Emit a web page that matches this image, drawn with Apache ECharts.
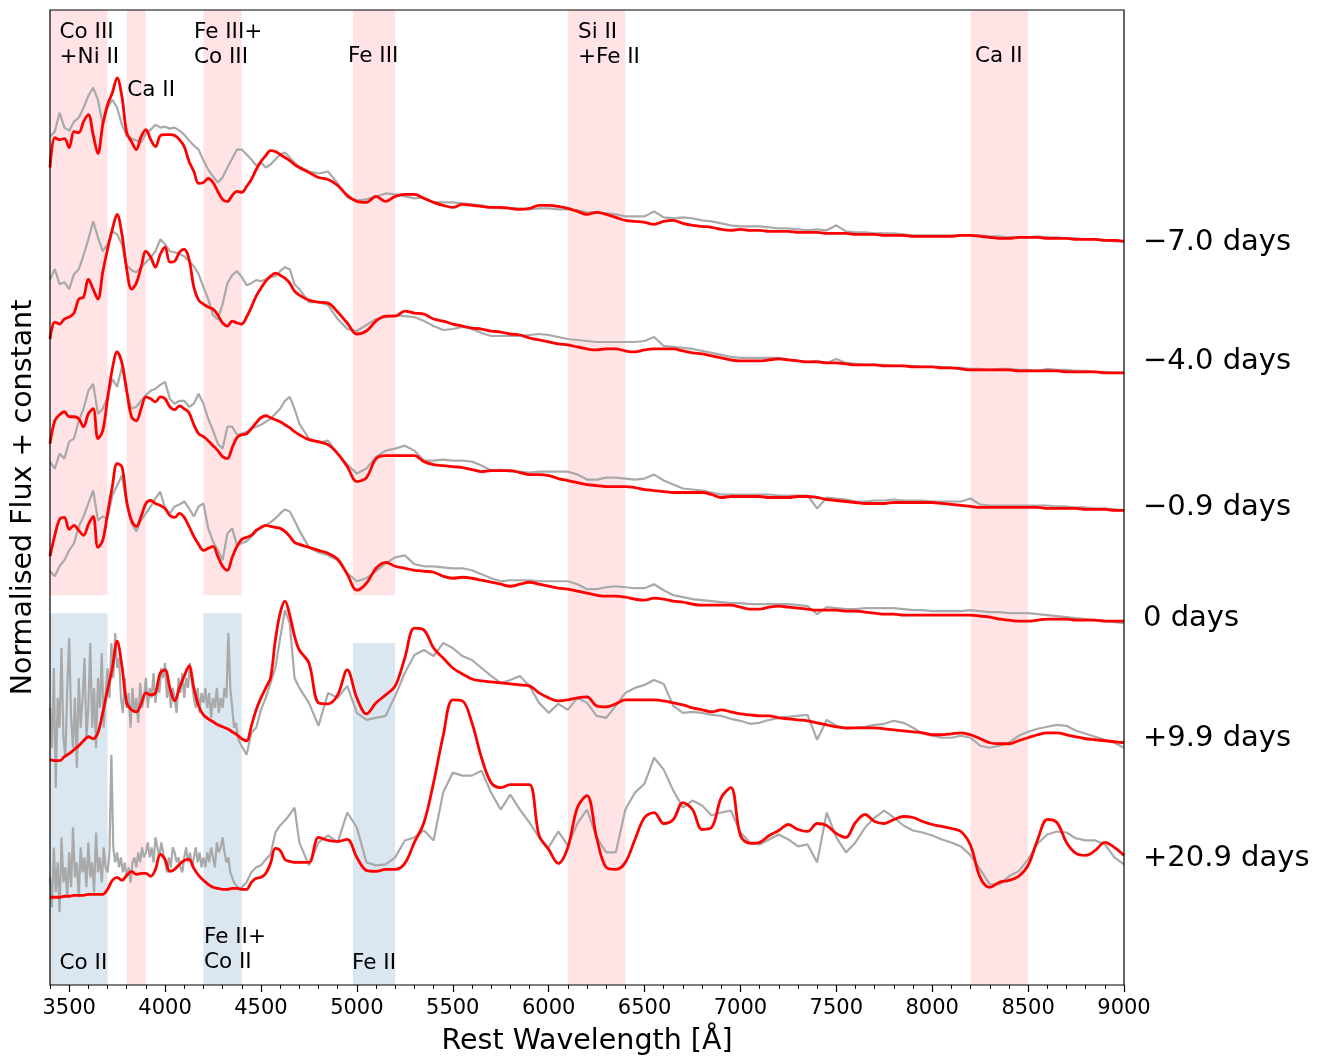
<!DOCTYPE html>
<html>
<head>
<meta charset="utf-8">
<script src="https://cdn.jsdelivr.net/npm/echarts@6/dist/echarts.min.js"></script>
<style>
  html, body { margin: 0; padding: 0; background: #fff; }
  #chart { width: 1324px; height: 1061px; }
</style>
</head>
<body>
<div id="chart"></div>
<script>
// wavelength grid (Angstrom), shared by every spectrum
var wave = [
  3400, 3425, 3450, 3475, 3500, 3525, 3550, 3575, 3600, 3625, 3650, 3675, 3700,
  3725, 3750, 3775, 3800, 3825, 3850, 3875, 3900, 3925, 3950, 3975, 4000,
  4025, 4050, 4075, 4100, 4125, 4150, 4175, 4200, 4225, 4250, 4275, 4300,
  4325, 4350, 4375, 4400, 4425, 4450, 4475, 4500, 4525, 4550, 4575, 4600, 4625, 4650, 4675, 4700,
  4750, 4800, 4850, 4900, 4950, 5000, 5050, 5100, 5150, 5200, 5250, 5300, 5350, 5400, 5450, 5500, 5550, 5600,
  5650, 5700, 5750, 5800, 5850, 5900, 5950, 6000, 6050, 6100, 6150, 6200, 6250, 6300, 6350, 6400, 6450, 6500,
  6550, 6600, 6650, 6700, 6750, 6800, 6850, 6900, 6950, 7000, 7050, 7100, 7150, 7200, 7250, 7300, 7350, 7400,
  7450, 7500, 7550, 7600, 7650, 7700, 7750, 7800, 7850, 7900, 7950, 8000, 8050, 8100, 8150, 8200,
  8250, 8300, 8350, 8400, 8450, 8500, 8550, 8600, 8650, 8700, 8750, 8800, 8850, 8900, 8950, 9000
];

// finer grid for the noisy blue end of the two late spectra
var waveFine = [
  3400, 3410, 3420, 3430, 3440, 3450, 3460, 3470, 3480, 3490,
  3500, 3510, 3520, 3530, 3540, 3550, 3560, 3570, 3580, 3590,
  3600, 3610, 3620, 3630, 3640, 3650, 3660, 3670, 3680, 3690,
  3700, 3710, 3720, 3730, 3740, 3750, 3760, 3770, 3780, 3790,
  3800, 3810, 3820, 3830, 3840, 3850, 3860, 3870, 3880, 3890,
  3900, 3910, 3920, 3930, 3940, 3950, 3960, 3970, 3980, 3990,
  4000, 4010, 4020, 4030, 4040, 4050, 4060, 4070, 4080, 4090,
  4100, 4110, 4120, 4130, 4140, 4150, 4160, 4170, 4180, 4190,
  4200, 4210, 4220, 4230, 4240, 4250, 4260, 4270, 4280, 4290,
  4300, 4310, 4320, 4330, 4340, 4350, 4360, 4370, 4380, 4390
];

// normalised flux + constant (x100), observed spectra (grey)
var obsM70 = [
  863, 868, 887, 872, 869, 878, 882, 892, 904, 912, 900, 875, 892,
  900, 892, 875, 864, 861, 859, 857, 866, 870, 875, 872, 873,
  871, 872, 869, 865, 859, 854, 850, 839, 830, 823, 817, 822,
  832, 841, 850, 850, 845, 840, 834, 837, 832, 835, 840, 845, 847, 842, 837, 833,
  828, 826, 828, 816, 802, 799, 800, 803, 806, 805, 803, 801, 802, 797, 797, 797, 796, 795,
  794, 792, 791, 791, 791, 790, 791, 791, 790, 790, 789, 787, 787, 786, 785, 783, 783, 783,
  788, 782, 781, 782, 781, 779, 778, 776, 774, 773, 773, 773, 772, 771, 771, 770, 769, 770,
  769, 774, 768, 767, 767, 766, 766, 766, 765, 764, 764, 764, 764, 764, 764, 764,
  764, 763, 763, 762, 762, 762, 763, 762, 762, 761, 761, 760, 760, 759, 758, 758
];
var obsM40 = [
  720, 730, 715, 717, 710, 725, 730, 744, 760, 778, 762, 748, 755,
  768, 765, 755, 734, 729, 727, 732, 737, 742, 748, 760, 755,
  748, 747, 745, 743, 738, 733, 725, 712, 700, 684, 680, 695,
  716, 724, 728, 722, 714, 716, 719, 718, 720, 722, 723, 728, 732, 730, 715, 710,
  697, 697, 694, 680, 670, 668, 674, 680, 682, 684, 683, 682, 678, 673, 669, 670, 672, 670,
  666, 663, 663, 663, 663, 664, 665, 664, 662, 660, 659, 658, 657, 657, 657, 657, 657, 658,
  662, 653, 652, 651, 650, 648, 646, 644, 642, 641, 641, 641, 641, 641, 639, 638, 637, 638,
  636, 640, 636, 635, 634, 634, 634, 633, 633, 633, 632, 632, 632, 631, 631, 630,
  630, 629, 630, 630, 629, 629, 628, 630, 629, 629, 628, 628, 627, 627, 626, 626
];
var obsM09 = [
  537, 530, 545, 540, 557, 560, 578, 590, 608, 615, 585, 590, 602,
  620, 612, 632, 607, 590, 592, 598, 604, 608, 610, 614, 617,
  600, 595, 598, 598, 592, 595, 605, 595, 580, 568, 555, 550,
  572, 572, 564, 565, 567, 570, 572, 574, 577, 580, 585, 590, 598, 602, 590, 575,
  560, 556, 558, 545, 534, 525, 530, 542, 548, 550, 553, 548, 538, 538, 539, 538, 538, 537,
  533, 528, 529, 527, 527, 526, 527, 527, 527, 527, 524, 519, 519, 521, 521, 520, 519, 520,
  524, 518, 514, 510, 509, 508, 506, 504, 504, 504, 504, 504, 504, 503, 503, 503, 503, 490,
  501, 500, 499, 497, 497, 498, 498, 499, 498, 498, 498, 497, 497, 497, 497, 500,
  494, 493, 493, 493, 493, 493, 493, 493, 492, 492, 491, 491, 490, 490, 489, 488
];
var obs00 = [
  427, 422, 432, 438, 448, 455, 472, 482, 495, 508, 478, 482, 480,
  503, 513, 523, 495, 475, 467, 478, 485, 492, 500, 507, 490,
  485, 492, 494, 497, 490, 482, 492, 495, 470, 457, 448, 438,
  465, 470, 453, 455, 457, 462, 467, 471, 473, 476, 480, 485, 489, 487, 478, 468,
  451, 446, 443, 438, 425, 417, 420, 427, 435, 441, 443, 434, 432, 432, 431, 430, 430, 428,
  424, 420, 417, 418, 418, 418, 417, 417, 417, 417, 414, 409, 409, 411, 412, 411, 410, 410,
  414, 408, 403, 401, 399, 398, 397, 396, 395, 395, 394, 394, 394, 394, 394, 393, 392, 384,
  391, 390, 389, 389, 390, 390, 390, 390, 389, 388, 388, 387, 387, 387, 387, 388,
  387, 386, 386, 385, 385, 385, 384, 383, 382, 381, 380, 379, 378, 377, 376, 375
];
var obsP99 = [
  300, 210, 280, 320, 360, 270, 300, 240, 340, 280, 310, 260, 350,
  310, 300, 360, 300, 270, 310, 290, 330, 300, 320, 285, 330,
  310, 280, 330, 310, 300, 290, 320, 295, 310, 285, 300, 310,
  320, 355, 280, 255, 243, 265, 270, 288, 300, 315, 330, 360, 388, 375, 320, 310,
  295, 272, 305, 300, 312, 285, 278, 280, 282, 302, 325, 343, 348, 342, 355, 350, 342, 338,
  330, 322, 315, 318, 322, 312, 295, 285, 294, 288, 300, 295, 282, 280, 292, 305, 310, 313,
  318, 314, 292, 285, 286, 285, 283, 282, 279, 277, 274, 275, 278, 280, 281, 282, 283, 258,
  278, 272, 269, 270, 271, 273, 274, 277, 275, 270, 264, 262, 260, 260, 262, 260,
  252, 250, 252, 255, 262, 266, 269, 271, 273, 272, 267, 264, 261, 258, 255, 250
];
var obsP99Fine = [
  290, 250, 330, 210, 300, 270, 350, 260, 240, 310,
  360, 280, 250, 300, 230, 320, 270, 300, 340, 260,
  290, 355, 270, 310, 250, 320, 290, 345, 270, 305,
  330, 300, 355, 320, 365, 330, 340, 300, 285, 320,
  290, 305, 270, 310, 285, 300, 275, 315, 290, 300,
  320, 290, 310, 300, 325, 295, 315, 305, 330, 320,
  335, 300, 315, 290, 310, 300, 285, 320, 305, 325,
  300, 320, 310, 335, 315, 300, 290, 310, 285, 305,
  295, 310, 290, 305, 280, 300, 290, 310, 285, 300,
  290, 310, 300, 365, 310, 290, 270, 275, 260, 255
];
var obsP209 = [
  120, 95, 140, 110, 145, 115, 135, 110, 140, 120, 145, 115, 130,
  243, 145, 138, 120, 132, 140, 128, 145, 150, 140, 153, 135,
  125, 150, 138, 130, 145, 135, 142, 130, 140, 135, 150, 157,
  142, 130, 118, 110, 115, 125, 130, 132, 138, 143, 165, 172, 177, 183, 190, 155,
  132, 155, 162, 155, 185, 170, 135, 132, 133, 140, 157, 160, 167, 157, 205, 225, 222, 222,
  227, 205, 188, 203, 188, 175, 160, 150, 166, 152, 174, 188, 160, 145, 145, 188, 205, 214,
  240, 228, 207, 190, 197, 192, 182, 185, 187, 165, 155, 153, 158, 163, 158, 151, 153, 135,
  185, 160, 145, 155, 170, 180, 187, 180, 172, 167, 165, 162, 158, 155, 151, 142,
  128, 113, 113, 121, 126, 138, 154, 163, 166, 165, 159, 157, 157, 153, 140, 133
];
var obsP209Fine = [
  120, 90, 150, 105, 135, 85, 160, 115, 130, 100,
  145, 110, 170, 120, 135, 100, 150, 125, 140, 110,
  155, 120, 135, 105, 165, 125, 140, 115, 150, 130,
  125, 145, 243, 150, 135, 145, 130, 140, 125, 135,
  120, 130, 115, 135, 140, 130, 145, 135, 150, 140,
  145, 155, 140, 150, 135, 160, 150, 140, 155, 145,
  135, 125, 140, 130, 150, 145, 135, 140, 130, 125,
  140, 150, 135, 145, 130, 140, 150, 135, 145, 130,
  140, 130, 145, 135, 150, 140, 130, 155, 145, 150,
  160, 145, 135, 140, 125, 120, 115, 112, 110, 108
];

// model spectra (red)
var modM70 = [
  832, 862, 860, 861, 852, 868, 867, 878, 885, 865, 846, 875, 895,
  907, 922, 903, 867, 858, 850, 863, 870, 860, 853, 864, 865,
  865, 864, 860, 853, 838, 828, 816, 817, 821, 817, 808, 800,
  798, 804, 808, 807, 813, 820, 830, 838, 844, 849, 848, 845, 842, 839, 835, 832,
  827, 822, 820, 814, 804, 798, 797, 803, 798, 803, 805, 805, 801, 797, 794, 792, 795, 794,
  793, 792, 792, 791, 790, 791, 794, 794, 793, 791, 788, 785, 787, 785, 782, 779, 778, 777,
  775, 778, 779, 776, 774, 773, 772, 770, 769, 770, 769, 769, 768, 768, 768, 767, 767, 767,
  766, 766, 766, 765, 765, 765, 764, 764, 764, 763, 763, 763, 763, 763, 764, 764,
  763, 762, 761, 761, 762, 762, 762, 761, 761, 761, 760, 760, 760, 759, 759, 758
];
var modM40 = [
  660, 677, 675, 680, 682, 686, 700, 702, 720, 710, 700, 727, 750,
  770, 785, 765, 730, 710, 716, 732, 748, 742, 732, 745, 752,
  737, 738, 747, 750, 740, 712, 699, 695, 692, 690, 684, 676,
  673, 678, 676, 675, 682, 692, 703, 711, 718, 723, 726, 724, 721, 716, 708, 704,
  699, 697, 696, 687, 676, 665, 668, 678, 683, 683, 688, 686, 685, 680, 678, 675, 673, 671,
  670, 668, 667, 665, 664, 661, 659, 657, 655, 654, 652, 650, 649, 650, 650, 648, 647, 649,
  650, 650, 650, 648, 646, 645, 643, 641, 639, 638, 638, 638, 639, 640, 639, 638, 637, 637,
  636, 636, 635, 634, 634, 634, 633, 633, 633, 632, 632, 632, 631, 631, 630, 629,
  629, 629, 629, 629, 628, 628, 628, 628, 628, 627, 627, 627, 627, 626, 626, 626
];
var modM09 = [
  555, 578, 584, 587, 582, 582, 580, 572, 585, 590, 560, 568, 600,
  630, 647, 636, 608, 582, 578, 590, 602, 600, 597, 602, 600,
  592, 589, 593, 590, 586, 574, 565, 562, 558, 553, 548, 542,
  540, 551, 561, 564, 565, 570, 576, 581, 583, 581, 579, 577, 574, 571, 567, 564,
  559, 557, 554, 545, 532, 517, 521, 540, 543, 543, 543, 543, 537, 534, 533, 532, 531, 529,
  527, 528, 528, 528, 526, 524, 524, 523, 520, 518, 516, 514, 513, 512, 512, 512, 511, 509,
  508, 507, 506, 506, 506, 506, 504, 501, 502, 502, 502, 502, 501, 501, 501, 502, 502, 501,
  499, 498, 497, 496, 495, 495, 495, 496, 496, 496, 496, 496, 495, 494, 493, 492,
  491, 491, 491, 491, 491, 491, 491, 490, 490, 490, 490, 489, 489, 489, 488, 488
];
var mod00 = [
  442, 463, 479, 481, 469, 473, 468, 463, 474, 482, 451, 458, 485,
  512, 535, 532, 497, 478, 472, 482, 495, 498, 495, 493, 490,
  483, 481, 485, 481, 472, 462, 454, 448, 450, 452, 442, 432,
  428, 441, 452, 459, 461, 463, 468, 471, 473, 472, 471, 470, 467, 462, 456, 454,
  451, 448, 445, 439, 424, 408, 415, 430, 436, 432, 430, 428, 427, 426, 422, 420, 421, 420,
  418, 416, 414, 412, 414, 416, 414, 412, 410, 409, 407, 405, 403, 402, 402, 401, 399, 398,
  400, 399, 397, 396, 394, 393, 393, 393, 393, 391, 389, 389, 391, 392, 391, 390, 389, 388,
  388, 388, 387, 387, 386, 385, 384, 384, 383, 383, 383, 383, 383, 383, 383, 383,
  382, 381, 379, 378, 377, 377, 378, 379, 379, 379, 378, 378, 378, 377, 377, 377
];
var modP99 = [
  238, 237, 237, 241, 244, 248, 252, 257, 261, 259, 265, 285, 308,
  330, 357, 332, 295, 288, 286, 294, 305, 303, 305, 325, 328,
  310, 297, 310, 322, 332, 310, 292, 283, 279, 276, 273, 271,
  269, 266, 263, 259, 257, 272, 288, 300, 310, 320, 358, 385, 397, 383, 362, 348,
  335, 295, 294, 303, 328, 300, 284, 295, 303, 312, 340, 370, 368, 350, 340, 330, 324, 319,
  317, 316, 315, 314, 313, 312, 305, 300, 297, 298, 300, 301, 292, 291, 294, 298, 298, 298,
  298, 297, 295, 293, 290, 288, 286, 288, 286, 284, 283, 282, 282, 280, 279, 278, 277, 275,
  273, 271, 270, 270, 270, 270, 269, 268, 267, 266, 265, 263, 263, 264, 265, 263,
  259, 255, 254, 254, 257, 260, 263, 265, 265, 263, 261, 259, 258, 257, 256, 255
];
var modP209 = [
  100, 100, 100, 101, 101, 102, 102, 102, 103, 103, 103, 103, 108,
  117, 120, 117, 122, 126, 123, 124, 124, 121, 128, 143, 138,
  126, 128, 133, 137, 138, 129, 122, 117, 113, 110, 109, 108,
  108, 109, 109, 108, 108, 115, 119, 120, 124, 134, 149, 147, 138, 136, 135, 135,
  135, 160, 157, 156, 158, 140, 127, 126, 128, 128, 134, 155, 175, 215, 262, 298, 297, 275,
  240, 215, 210, 213, 213, 213, 162, 148, 134, 150, 190, 202, 160, 130, 128, 135, 158, 180,
  185, 174, 178, 195, 188, 168, 170, 200, 210, 162, 154, 155, 162, 167, 173, 168, 166, 174,
  172, 164, 160, 175, 183, 176, 174, 178, 181, 180, 176, 173, 171, 169, 166, 152,
  120, 110, 115, 117, 121, 132, 158, 178, 175, 155, 144, 142, 147, 155, 150, 142
];

var phaseNames = ['\u22127.0 days', '\u22124.0 days', '\u22120.9 days', '0 days', '+9.9 days', '+20.9 days'];
var phaseLabelY = [757, 637, 491, 380, 259, 139];
var observed = [obsM70, obsM40, obsM09, obs00, obsP99, obsP209];
var observedFine = [null, null, null, null, obsP99Fine, obsP209Fine];
var models = [modM70, modM40, modM09, mod00, modP99, modP209];

// shaded line regions: [from, to, bottom, top]
var pinkBands = [[3400, 3700, 403, 990], [3800, 3900, 12, 990], [4200, 4400, 403, 990],
                 [4980, 5200, 403, 990], [6100, 6400, 12, 990], [8200, 8500, 12, 990]];
var blueBands = [[3400, 3700, 12, 385], [4200, 4400, 12, 385], [4980, 5200, 12, 355]];

var lineText = ['Co III\n+Ni II', 'Ca II', 'Fe III+\nCo III', 'Fe III', 'Si II\n+Fe II', 'Ca II',
                'Co II', 'Fe II+\nCo II', 'Fe II'];
var lineTextX = [3450, 3803, 4151, 4954, 6153, 8223, 3450, 4203, 4975];
var lineTextY = [955, 909, 955, 943, 955, 943, 34, 47, 34];

var majorTicks = [3500, 4000, 4500, 5000, 5500, 6000, 6500, 7000, 7500, 8000, 8500, 9000];

var FONT = 'DejaVu Sans';

function pairs(vals, fine) {
    var out = [];
    if (fine) {
        waveFine.forEach(function (w, i) { out.push([w, fine[i]]); });
    }
    wave.forEach(function (w, i) {
        if (!fine || w > waveFine[waveFine.length - 1]) out.push([w, vals[i]]);
    });
    return out;
}
function bandData(bands) {
    return bands.map(function (b) {
        return [{ xAxis: b[0], yAxis: b[2] }, { xAxis: b[1], yAxis: b[3] }];
    });
}

var series = [
    {
        type: 'line', data: [], silent: true, z: 1,
        markArea: { silent: true, itemStyle: { color: '#ffe3e5' }, data: bandData(pinkBands) }
    },
    {
        type: 'line', data: [], silent: true, z: 1,
        markArea: { silent: true, itemStyle: { color: '#dae6f0' }, data: bandData(blueBands) }
    }
];
observed.forEach(function (o, k) {
    series.push({
        type: 'line', data: pairs(o, observedFine[k]), showSymbol: false, z: 2,
        lineStyle: { color: '#a9a9a9', width: 2.2 }, animation: false
    });
});
models.forEach(function (m) {
    series.push({
        type: 'line', data: pairs(m), showSymbol: false, z: 3, smooth: 0.35,
        lineStyle: { color: '#ff0000', width: 2.8 }, animation: false
    });
});

var chart = echarts.init(document.getElementById('chart'));
var option = {
    animation: false,
    backgroundColor: '#fff',
    grid: { left: 50, right: 200, top: 10, bottom: 73 },
    xAxis: [
        {
            type: 'value', min: 3400, max: 9000, position: 'bottom',
            name: 'Rest Wavelength [\u00c5]', nameLocation: 'middle', nameGap: 42,
            nameTextStyle: { fontFamily: FONT, fontSize: 28.5, color: '#000' },
            axisLine: { show: false },
            axisTick: { show: true, length: 7, customValues: majorTicks, lineStyle: { color: '#000', width: 1.2 } },
            axisLabel: {
                customValues: majorTicks, fontFamily: FONT, fontSize: 21, color: '#000', margin: 13,
                formatter: function (v) { return String(v); }
            },
            splitLine: { show: false }
        },
        {
            type: 'value', min: 3400, max: 9000, interval: 100, position: 'bottom',
            axisLine: { show: false },
            axisTick: { show: true, length: 4, lineStyle: { color: '#000', width: 1 } },
            axisLabel: { show: false },
            splitLine: { show: false }
        }
    ],
    yAxis: {
        type: 'value', min: 12, max: 990,
        name: 'Normalised Flux + constant', nameLocation: 'middle', nameGap: 12,
        nameTextStyle: { fontFamily: FONT, fontSize: 28.5, color: '#000' },
        axisLine: { show: false }, axisTick: { show: false }, axisLabel: { show: false },
        splitLine: { show: false }
    },
    series: series
};
chart.setOption(option);

// frame and text labels anchored to data positions
var graphics = [];
var c0 = chart.convertToPixel({ gridIndex: 0 }, [3400, 990]);
var c1 = chart.convertToPixel({ gridIndex: 0 }, [9000, 12]);
graphics.push({
    type: 'rect', z: 20, silent: true,
    shape: { x: c0[0], y: c0[1], width: c1[0] - c0[0], height: c1[1] - c0[1] },
    style: { fill: null, stroke: '#000', lineWidth: 1.2 }
});
lineText.forEach(function (t, i) {
    var p = chart.convertToPixel({ gridIndex: 0 }, [lineTextX[i], lineTextY[i]]);
    graphics.push({
        type: 'text', x: p[0], y: p[1], z: 10,
        style: { text: t, fill: '#000', fontFamily: FONT, fontSize: 21.5, lineHeight: 25,
                 align: 'left', verticalAlign: 'middle' }
    });
});
phaseNames.forEach(function (t, i) {
    var p = chart.convertToPixel({ gridIndex: 0 }, [9000, phaseLabelY[i]]);
    graphics.push({
        type: 'text', x: p[0] + 19, y: p[1], z: 10,
        style: { text: t, fill: '#000', fontFamily: FONT, fontSize: 29, align: 'left', verticalAlign: 'middle' }
    });
});
chart.setOption({ graphic: graphics });
</script>
</body>
</html>
